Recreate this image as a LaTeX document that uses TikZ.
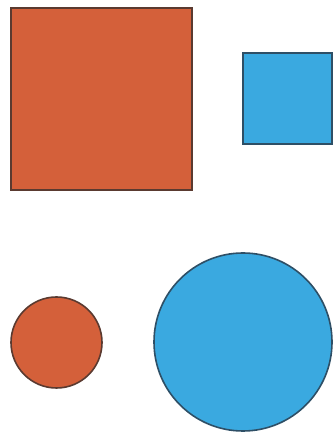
\documentclass[tikz,border=0pt]{standalone}
\usepackage{tikz}
\definecolor{orng}{HTML}{D4603A}
\definecolor{skyb}{HTML}{3AA9E0}
\definecolor{edgeo}{HTML}{5A3A30}
\definecolor{edgeb}{HTML}{2E4F66}
\begin{document}
\begin{tikzpicture}[x=1pt,y=1pt,
  osh/.style={fill=orng,draw=edgeo,line width=1.6pt},
  bsh/.style={fill=skyb,draw=edgeb,line width=1.6pt}]
\useasboundingbox[fill=white] (0,0) rectangle (333,435);
\draw[osh] (11,245) rectangle (192,427);
\draw[bsh] (243,291) rectangle (332,382);
\draw[osh] (56.5,92.5) circle (45.5);
\draw[bsh] (243,93) circle (89);
\end{tikzpicture}
\end{document}
